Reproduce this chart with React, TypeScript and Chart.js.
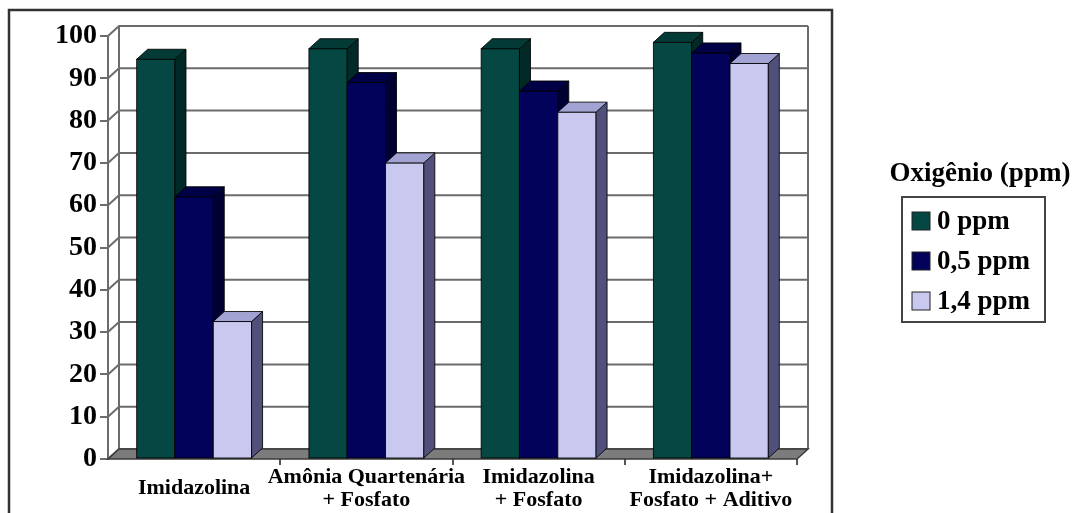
import React, { useEffect, useRef } from 'react';
import { Chart, registerables } from 'chart.js';

Chart.register(...registerables);

// ---------- data ----------
const categories: string[][] = [
  ['Imidazolina'],
  ['Amônia Quartenária', '+ Fosfato'],
  ['Imidazolina', '+ Fosfato'],
  ['Imidazolina+', 'Fosfato + Aditivo'],
];
const seriesNames = ['0 ppm', '0,5 ppm', '1,4 ppm'];
const ppm0 = [94.5, 97, 97, 98.5];
const ppm05 = [62, 89, 87, 96];
const ppm14 = [32.5, 70, 82, 93.5];
const yMin = 0;
const yMax = 100;
const yStep = 10;
const legendTitle = 'Oxigênio (ppm)';

// ---------- styles ----------
const FONT = "'Liberation Serif', 'Times New Roman', serif";
const frontColors = ['#054843', '#02025a', '#c9c9ef'];
const sideColors = ['#012a27', '#000033', '#50507a'];
const topColors = ['#033a36', '#000046', '#a3a3d3'];
const DX = 11;
const DY = -10;

const threeD = {
  id: 'threeD',
  beforeDraw(chart: any) {
    const { ctx, width, height } = chart;
    ctx.save();
    ctx.fillStyle = '#ffffff';
    ctx.fillRect(0, 0, width, height);
    ctx.restore();
  },
  beforeDatasetsDraw(chart: any) {
    const { ctx, chartArea: a, scales } = chart;
    const y = scales.y;
    ctx.save();
    // walls / grid
    ctx.strokeStyle = '#6c6c6c';
    ctx.lineWidth = 2;
    ctx.lineJoin = 'miter';
    for (const t of y.ticks) {
      const py = y.getPixelForValue(t.value);
      ctx.beginPath();
      ctx.moveTo(a.left, py);
      ctx.lineTo(a.left + DX, py + DY);
      ctx.lineTo(a.right + DX, py + DY);
      ctx.stroke();
    }
    ctx.beginPath();
    ctx.moveTo(a.left + DX, a.top + DY);
    ctx.lineTo(a.left + DX, a.bottom + DY);
    ctx.moveTo(a.right + DX, a.top + DY);
    ctx.lineTo(a.right + DX, a.bottom + DY);
    ctx.stroke();
    // floor
    ctx.beginPath();
    ctx.moveTo(a.left, a.bottom);
    ctx.lineTo(a.right, a.bottom);
    ctx.lineTo(a.right + DX, a.bottom + DY);
    ctx.lineTo(a.left + DX, a.bottom + DY);
    ctx.closePath();
    ctx.fillStyle = '#7c7c7c';
    ctx.fill();
    ctx.strokeStyle = '#3a3a3a';
    ctx.lineWidth = 1.5;
    ctx.stroke();

    // bars in 3D, left to right
    const metas = chart.data.datasets.map((_: any, i: number) => chart.getDatasetMeta(i));
    const n = chart.data.labels.length;
    ctx.lineWidth = 1;
    ctx.strokeStyle = 'rgba(0,0,0,0.85)';
    for (let c = 0; c < n; c++) {
      for (let d = 0; d < metas.length; d++) {
        const el = metas[d].data[c];
        if (!el) continue;
        const { x, y: top, base, width } = el.getProps(['x', 'y', 'base', 'width'], true);
        const l = x - width / 2;
        const r = x + width / 2;
        // front
        ctx.fillStyle = frontColors[d];
        ctx.fillRect(l, top, r - l, base - top);
        ctx.strokeRect(l, top, r - l, base - top);
        // side
        ctx.beginPath();
        ctx.moveTo(r, top);
        ctx.lineTo(r + DX, top + DY);
        ctx.lineTo(r + DX, base + DY);
        ctx.lineTo(r, base);
        ctx.closePath();
        ctx.fillStyle = sideColors[d];
        ctx.fill();
        ctx.stroke();
        // top
        ctx.beginPath();
        ctx.moveTo(l, top);
        ctx.lineTo(l + DX, top + DY);
        ctx.lineTo(r + DX, top + DY);
        ctx.lineTo(r, top);
        ctx.closePath();
        ctx.fillStyle = topColors[d];
        ctx.fill();
        ctx.stroke();
      }
    }
    ctx.restore();
    return false;
  },
  afterDraw(chart: any) {
    const { ctx } = chart;
    ctx.save();
    // outer frame
    ctx.strokeStyle = '#333333';
    ctx.lineWidth = 2.5;
    ctx.strokeRect(9, 10, 823, 530);
    // legend
    ctx.fillStyle = '#000';
    ctx.font = `bold 27px ${FONT}`;
    ctx.textAlign = 'center';
    ctx.textBaseline = 'middle';
    ctx.fillText(legendTitle, 980, 174);
    ctx.strokeStyle = '#444';
    ctx.lineWidth = 2;
    ctx.strokeRect(902, 197, 143, 125);
    ctx.textAlign = 'left';
    ctx.font = `bold 27px ${FONT}`;
    chart.data.datasets.forEach((ds: any, i: number) => {
      const cy = 221 + i * 40;
      ctx.fillStyle = frontColors[i];
      ctx.fillRect(912, cy - 9, 18, 18);
      ctx.strokeStyle = '#222';
      ctx.lineWidth = 1;
      ctx.strokeRect(912, cy - 9, 18, 18);
      ctx.fillStyle = '#000';
      ctx.fillText(ds.label, 937, cy + 1);
    });
    ctx.restore();
  },
};

export default function App() {
  const ref = useRef<HTMLCanvasElement>(null);
  useEffect(() => {
    if (!ref.current) return;
    const chart = new Chart(ref.current, {
      type: 'bar',
      data: {
        labels: categories as any,
        datasets: [ppm0, ppm05, ppm14].map((vals, i) => ({
          label: seriesNames[i],
          data: vals,
          backgroundColor: frontColors[i],
          categoryPercentage: 0.667,
          barPercentage: 1.0,
        })),
      },
      options: {
        responsive: false,
        animation: false,
        layout: { padding: { top: 36, right: 285, bottom: 0, left: 0 } },
        plugins: {
          legend: { display: false },
          tooltip: { enabled: false },
          title: { display: false },
        },
        scales: {
          x: {
            grid: {
              offset: true,
              drawOnChartArea: false,
              drawTicks: true,
              tickLength: 6,
              lineWidth: 2,
              color: (c: any) => (c.index === 0 || c.index === categories.length ? 'rgba(0,0,0,0)' : '#555'),
            },
            border: { display: false },
            ticks: {
              font: { family: FONT, size: 22, weight: 'bold', lineHeight: 1.05 },
              color: '#000',
              padding: 12,
              crossAlign: 'center',
              maxRotation: 0,
              autoSkip: false,
            },
            afterFit: (s: any) => {
              s.height = 54;
            },
          },
          y: {
            min: yMin,
            max: yMax,
            ticks: {
              stepSize: yStep,
              font: { family: FONT, size: 28, weight: 'bold' },
              color: '#000',
              padding: 3,
              autoSkip: false,
            },
            grid: { drawOnChartArea: false, tickLength: 8, color: '#6c6c6c', lineWidth: 2 },
            border: { display: true, color: '#6c6c6c', width: 2 },
            afterFit: (s: any) => {
              s.width = 108;
            },
          },
        },
      } as any,
      plugins: [threeD],
    });
    return () => chart.destroy();
  }, []);
  return (
    <div style={{ position: 'absolute', left: 0, top: 0, width: 1082, height: 513 }}>
      <canvas ref={ref} width={1082} height={513} />
    </div>
  );
}
